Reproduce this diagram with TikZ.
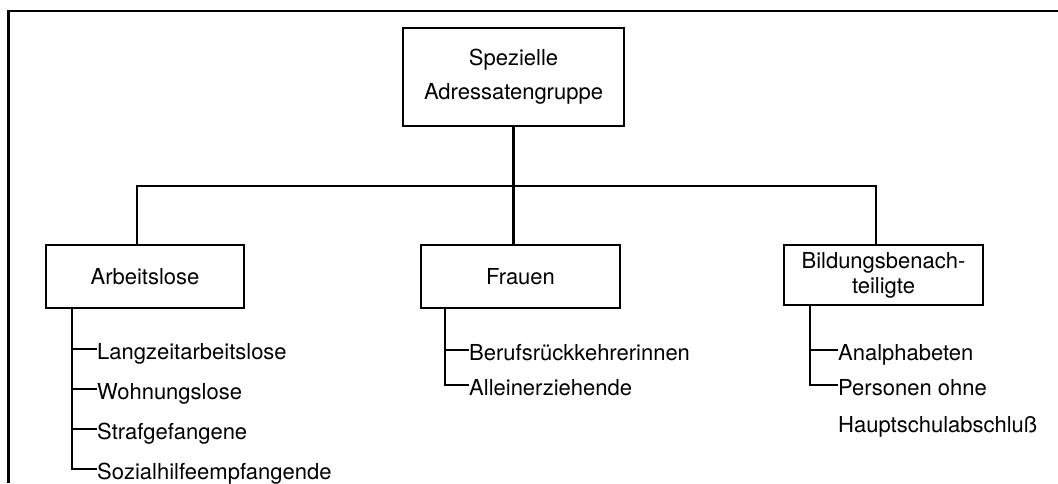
\documentclass[tikz,border=0pt]{standalone}
\usepackage{fontspec}
\setmainfont{TeX Gyre Heros}
\begin{document}
\begin{tikzpicture}[x=1pt,y=-1pt,
  every node/.style={font=\fontsize{22}{34}\selectfont},
  line/.style={line width=2.2pt},
  box/.style={draw,line width=2.4pt,inner sep=0pt,align=center},
  item/.style={anchor=base west,inner sep=0pt},
]
\useasboundingbox (0,0) rectangle (1058,483);
% frame (top and left edges)
\coordinate (fTR) at (1058,11);
\coordinate (fTL) at (8.5,11);
\coordinate (fBL) at (8.5,483);
\draw[line width=2.4pt] (fTR) -- (fTL) -- (fBL);

% boxes
\node[box,minimum width=221pt,minimum height=98pt] (top) at (513.5,77)
  {Spezielle\\Adressatengruppe};
\node[box,minimum width=198pt,minimum height=63pt] (arb) at (145,276.5) {Arbeitslose};
\node[box,minimum width=199pt,minimum height=63pt] (fra) at (520.5,276.5) {Frauen};
\node[box,minimum width=199pt,minimum height=60pt,font=\fontsize{22}{25}\selectfont] (bil) at (883.5,275)
  {Bildungsbenach-\\teiligte};

% tree connectors
\coordinate (ja) at (137,245);
\coordinate (jb) at (876,245);
\coordinate (bus) at (0,186);
\draw[line] (top.south) -- (top.south |- fra.north);
\draw[line] (ja) -- (ja |- bus) -| (jb);

% Arbeitslose items
\node[item] (a1) at (97,359) {Langzeitarbeitslose};
\node[item] (a2) at (97,399) {Wohnungslose};
\node[item] (a3) at (97,439) {Strafgefangene};
\node[item] (a4) at (97,479) {Sozialhilfeempfangende};
\coordinate (av) at (72,0);
\draw[line] (av |- arb.south) |- ([yshift=10pt]a4.base west);
\foreach \i in {1,2,3} \draw[line] ([yshift=10pt]a\i.base west) -- ++(-25,0);

% Frauen items
\node[item] (f1) at (469,360) {Berufsrückkehrerinnen};
\node[item] (f2) at (469,395) {Alleinerziehende};
\coordinate (fv) at (445,0);
\draw[line] (fv |- fra.south) |- ([yshift=10pt]f2.base west);
\draw[line] ([yshift=10pt]f1.base west) -- ++(-24,0);

% Bildungsbenachteiligte items
\node[item] (b1) at (838,360) {Analphabeten};
\node[item] (b2) at (838,395) {Personen ohne};
\node[item] (b3) at (838,432) {Hauptschulabschluß};
\coordinate (bv) at (810,0);
\draw[line] (bv |- bil.south) |- ([yshift=10pt]b2.base west);
\draw[line] ([yshift=10pt]b1.base west) -- ++(-28,0);
\end{tikzpicture}
\end{document}
